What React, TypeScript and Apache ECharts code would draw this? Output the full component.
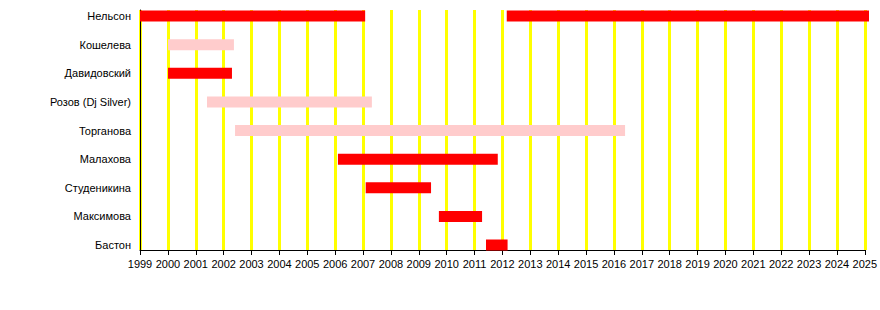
import React, { useEffect, useRef } from "react";
import * as echarts from "echarts";

const members = [
  "Нельсон",
  "Кошелева",
  "Давидовский",
  "Розов (Dj Silver)",
  "Торганова",
  "Малахова",
  "Студеникина",
  "Максимова",
  "Бастон",
];

// one entry per bar
const barMember = [0, 0, 1, 2, 3, 4, 5, 6, 7, 8];
const barStart = [1999, 2012.08, 2000.0, 2000.0, 2001.39, 2002.39, 2006.06, 2007.05, 2009.66, 2011.34];
const barEnd = [2007.03, 2025, 2002.35, 2002.28, 2007.27, 2016.3, 2011.76, 2009.38, 2011.2, 2012.11];
const barRole = ["main", "main", "other", "main", "other", "other", "main", "main", "main", "main"];

const yearMin = 1999;
const yearMax = 2025;

const roleColor: Record<string, string> = { main: "#ff0000", other: "#ffcccc" };

export default function App() {
  const ref = useRef<HTMLDivElement>(null);
  useEffect(() => {
    document.body.style.margin = "0";
    if (!ref.current) return;
    const chart = echarts.init(ref.current, undefined, { renderer: "svg" });
    const font = "Liberation Sans, Arial, sans-serif";
    const rowH = 28.625;
    const firstCenter = 16;
    const data = barStart.map((s, i) => [s, barEnd[i], barMember[i], barRole[i]]);
    chart.setOption({
      animation: false,
      grid: [
        { left: 140, right: 11, top: 10, height: 240 },
        { left: 140, right: 11, top: firstCenter - rowH / 2, height: rowH * members.length },
      ],
      xAxis: [
        {
          gridIndex: 0,
          type: "value",
          min: yearMin,
          max: yearMax,
          interval: 1,
          axisLine: { show: true, lineStyle: { color: "#000", width: 1 } },
          axisTick: { show: true, length: 5, lineStyle: { color: "#000" } },
          axisLabel: { color: "#000", fontSize: 11, fontFamily: font, margin: 8, formatter: (v: number) => String(v) },
          splitLine: { show: true, lineStyle: { color: "#ffff00", width: 3 } },
        },
        { gridIndex: 1, type: "value", min: yearMin, max: yearMax, show: false },
      ],
      yAxis: [
        {
          gridIndex: 0,
          type: "value",
          min: 0,
          max: 1,
          axisLine: { show: true, lineStyle: { color: "#000", width: 1 } },
          axisTick: { show: false },
          axisLabel: { show: false },
          splitLine: { show: false },
        },
        {
          gridIndex: 1,
          type: "category",
          data: members,
          inverse: true,
          axisLine: { show: false },
          axisTick: { show: false },
          splitLine: { show: false },
          axisLabel: { color: "#000", fontSize: 11, fontFamily: font, margin: 9 },
        },
      ],
      series: [
        {
          type: "custom",
          xAxisIndex: 1,
          yAxisIndex: 1,
          encode: { x: [0, 1], y: 2 },
          data,
          renderItem: (params: any, api: any) => {
            const s = api.coord([api.value(0), api.value(2)]);
            const e = api.coord([api.value(1), api.value(2)]);
            const h = 11;
            const role = data[params.dataIndex][3] as string;
            return {
              type: "rect",
              shape: { x: s[0], y: s[1] - h / 2, width: e[0] - s[0], height: h },
              style: { fill: roleColor[role] },
            };
          },
        },
      ],
    });
    return () => chart.dispose();
  }, []);
  return <div ref={ref} style={{ width: 880, height: 310 }} />;
}
